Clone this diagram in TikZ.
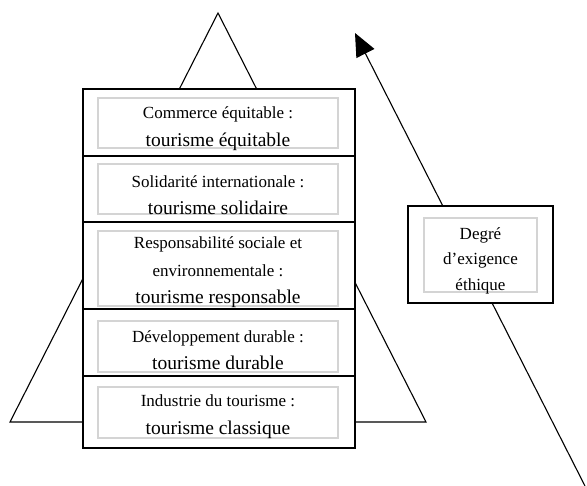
\documentclass[tikz,border=0pt]{standalone}
\usepackage{fontspec}
\setmainfont{Liberation Serif}
\usetikzlibrary{arrows.meta}
\newcommand\bigtxt{\fontsize{19.5}{27.5}\selectfont}
\tikzset{
  outerbox/.style={draw=black, line width=1.8pt, fill=white, minimum width=272pt, inner sep=0pt, anchor=north west},
  innerbox/.style={draw=black!17, line width=1.4pt, fill=white, inner sep=0pt, minimum width=240pt},
  boxtext/.style={inner sep=0pt, align=center, font=\fontsize{17}{27.5}\selectfont},
  thinline/.style={line width=1.1pt}
}
\begin{document}
\begin{tikzpicture}[x=1pt,y=-1pt]
\useasboundingbox (0,0) rectangle (587,486);
% pyramid
\coordinate (apex) at (218,13);
\coordinate (bl) at (10,422);
\coordinate (br) at (426,422);
\draw[thinline] (bl) -- (apex) -- (br) -- cycle;
% arrow
\coordinate (tail) at (585,486);
\coordinate (tip) at (355,33);
\draw[thinline, -{Triangle[length=23pt,width=20pt]}] (tail) -- (tip);
% outer boxes
\node[outerbox, minimum height=67pt] (o1) at (82,88) {};
\node[outerbox, minimum height=66pt] (o2) at (82,155) {};
\node[outerbox, minimum height=87pt] (o3) at (82,221) {};
\node[outerbox, minimum height=67pt] (o4) at (82,308) {};
\node[outerbox, minimum height=72pt] (o5) at (82,375) {};
% inner boxes
\node[innerbox, minimum height=50pt] (i1) at (218,123) {};
\node[innerbox, minimum height=50pt] (i2) at (218,189) {};
\node[innerbox, minimum height=75pt] (i3) at (218,268.5) {};
\node[innerbox, minimum height=51pt] (i4) at (218,346.5) {};
\node[innerbox, minimum height=51pt] (i5) at (218,412.5) {};
% texts
\node[boxtext] (t1) at (218,128.5) {Commerce équitable :\\{\bigtxt tourisme équitable}};
\node[boxtext] (t2) at (218,195) {Solidarité internationale :\\{\bigtxt tourisme solidaire}};
\node[boxtext] (t3) at (218,272.5) {Responsabilité sociale et\\environnementale :\\{\bigtxt tourisme responsable}};
\node[boxtext] (t4) at (218,350) {Développement durable :\\{\bigtxt tourisme durable}};
\node[boxtext] (t5) at (218,416.5) {Industrie du tourisme :\\{\bigtxt tourisme classique}};
% right box
\node[draw=black, line width=1.8pt, fill=white, minimum width=145pt, minimum height=97pt, inner sep=0pt] (r) at (480.5,254.5) {};
\node[innerbox, minimum width=113pt, minimum height=74pt] (ri) at (480.5,255) {};
\node[boxtext, font=\fontsize{17}{25.5}\selectfont] (rt) at (480.5,260.5) {Degré\\d’exigence\\éthique};
\end{tikzpicture}
\end{document}
